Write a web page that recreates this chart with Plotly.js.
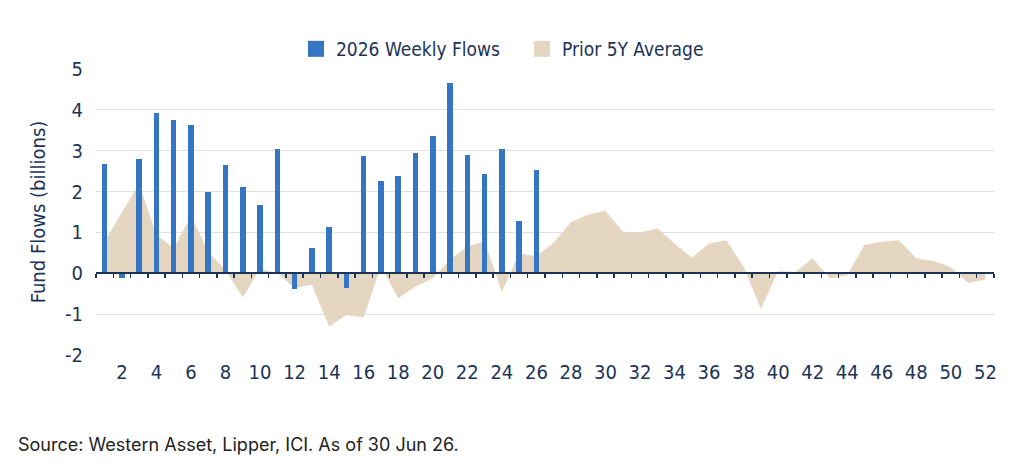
<!DOCTYPE html>
<html>
<head>
<meta charset="utf-8">
<script src="https://cdn.plot.ly/plotly-3.0.1.min.js"></script>
<style>
  html, body { margin: 0; padding: 0; background: #ffffff; }
  #chart { width: 1024px; height: 472px; }
</style>
</head>
<body>
<div id="chart"></div>
<script>
// Week numbers 1..52
const weeks = [
  1, 2, 3, 4, 5, 6, 7, 8, 9, 10, 11, 12, 13,
  14, 15, 16, 17, 18, 19, 20, 21, 22, 23, 24, 25, 26,
  27, 28, 29, 30, 31, 32, 33, 34, 35, 36, 37, 38, 39,
  40, 41, 42, 43, 44, 45, 46, 47, 48, 49, 50, 51, 52
];

// 2026 weekly fund flows (billions), weeks 1-26
const flows2026 = [
  2.68, -0.12, 2.80, 3.92, 3.74, 3.62, 1.98, 2.65, 2.11, 1.68, 3.05, -0.38, 0.63,
  1.13, -0.37, 2.86, 2.25, 2.37, 2.95, 3.36, 4.65, 2.90, 2.42, 3.03, 1.28, 2.52
];

// Prior five-year average weekly flows (billions), weeks 1-52
const prior5yAvg = [
  0.78, 1.50, 2.20, 0.94, 0.61, 1.40, 0.53, 0.08, -0.59, 0.11, 0.00, -0.36, -0.28,
  -1.30, -1.02, -1.08, 0.17, -0.61, -0.33, -0.12, 0.33, 0.65, 0.79, -0.46, 0.49, 0.42,
  0.75, 1.25, 1.44, 1.53, 1.02, 0.99, 1.10, 0.73, 0.38, 0.73, 0.81, 0.16, -0.88,
  0.05, 0.03, 0.37, -0.13, -0.04, 0.69, 0.77, 0.81, 0.37, 0.30, 0.15, -0.24, -0.15
];

const xTickVals = [2, 4, 6, 8, 10, 12, 14, 16, 18, 20, 22, 24, 26, 28, 30, 32, 34, 36, 38, 40, 42, 44, 46, 48, 50, 52];
const yTickVals = [-2, -1, 0, 1, 2, 3, 4, 5];
const yTickText = ['-2', '-1', '0', '1', '2', '3', '4', '5'];
const seriesNames = ['2026 Weekly Flows', 'Prior 5Y Average'];
const sourceNote = 'Source: Western Asset, Lipper, ICI. As of 30 Jun 26.';

const BLUE = '#3475c4';
const TAN = '#e4d6c0';
const NAVY = '#1c3358';
const CONDENSED = '"Liberation Sans Narrow", "DejaVu Sans Condensed", "Roboto", sans-serif';

const traces = [
  // prior-year average area (base subplot, drawn underneath)
  {
    type: 'scatter',
    mode: 'lines',
    x: weeks,
    y: prior5yAvg,
    fill: 'tozeroy',
    fillcolor: TAN,
    line: { width: 0, color: TAN },
    showlegend: false,
    hoverinfo: 'skip'
  },
  // current-year bars on the overlaying zero-line axis, so they sit above the area
  {
    type: 'bar',
    x: weeks.slice(0, flows2026.length),
    y: flows2026,
    xaxis: 'x2',
    width: 0.32,
    marker: { color: BLUE, line: { width: 0 } },
    showlegend: false
  },
  // legend swatches
  {
    type: 'scatter', mode: 'markers', x: [null], y: [null],
    name: seriesNames[0],
    marker: { symbol: 'square', size: 16, color: BLUE }
  },
  {
    type: 'scatter', mode: 'markers', x: [null], y: [null],
    name: seriesNames[1],
    marker: { symbol: 'square', size: 16, color: TAN }
  }
];

const layout = {
  width: 1024,
  height: 472,
  paper_bgcolor: '#ffffff',
  plot_bgcolor: '#ffffff',
  margin: { l: 96, r: 30, t: 69, b: 117 },
  bargap: 0,
  showlegend: true,
  legend: {
    orientation: 'h',
    x: 0.2227, xanchor: 'left',
    y: 1.07, yanchor: 'middle',
    font: { family: CONDENSED, size: 19, color: NAVY },
    itemsizing: 'trace',
    traceorder: 'normal',
    entrywidth: 181,
    entrywidthmode: 'pixels'
  },
  xaxis: {
    type: 'linear',
    range: [0.5, 52.5],
    tickmode: 'array',
    tickvals: xTickVals,
    ticks: '',
    showgrid: false,
    zeroline: false,
    showline: false,
    tickfont: { family: CONDENSED, size: 20, color: NAVY },
    ticklabelstandoff: 3
  },
  xaxis2: {
    type: 'linear',
    overlaying: 'x',
    anchor: 'free',
    position: 2 / 7,
    range: [0.5, 52.5],
    tick0: 0.5,
    dtick: 1,
    ticks: 'outside',
    ticklen: 4,
    tickwidth: 1.5,
    tickcolor: NAVY,
    showline: true,
    linecolor: NAVY,
    linewidth: 2,
    showticklabels: false,
    showgrid: false,
    zeroline: false
  },
  yaxis: {
    range: [-2, 5],
    tickmode: 'array',
    tickvals: yTickVals,
    ticktext: yTickText,
    showgrid: true,
    gridcolor: '#e0e0e0',
    gridwidth: 1,
    zeroline: false,
    showline: false,
    ticks: '',
    tickfont: { family: CONDENSED, size: 20, color: NAVY },
    ticklabelstandoff: 12,
    title: {
      text: 'Fund Flows (billions)',
      font: { family: CONDENSED, size: 20, color: NAVY },
      standoff: 14
    }
  },
  annotations: [
    {
      xref: 'paper', yref: 'paper',
      x: (16 - 96) / 898, y: (355.3 - 445) / 286,
      xanchor: 'left', yanchor: 'middle',
      showarrow: false,
      text: sourceNote,
      font: { family: 'Inter, "Liberation Sans", sans-serif', size: 18, color: '#222222' }
    }
  ]
};

Plotly.newPlot('chart', traces, layout, { displayModeBar: false, staticPlot: true });
</script>
</body>
</html>
